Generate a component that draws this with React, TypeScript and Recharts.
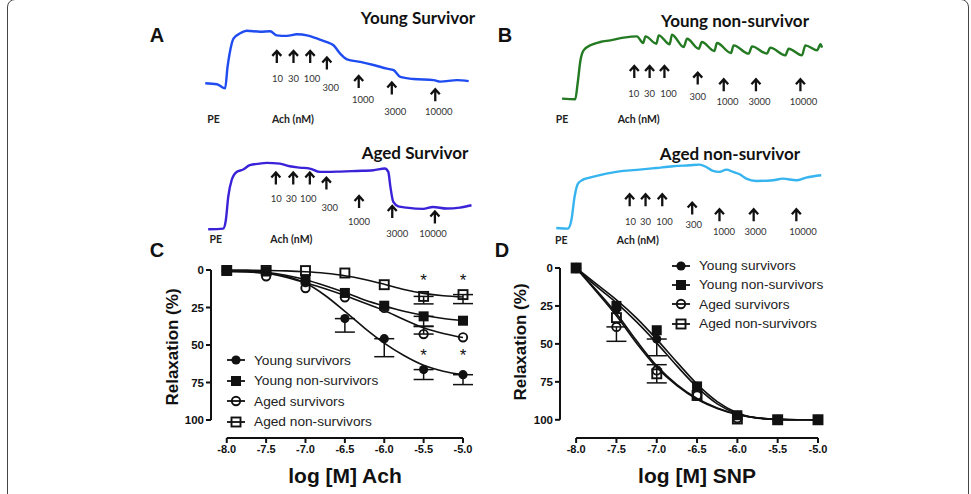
import React from 'react';
import { ComposedChart, Line, Scatter, XAxis, YAxis, ErrorBar, ReferenceLine } from 'recharts';

// ---------- isometric tension recordings (t = % of recording, v = % of PE tension)
const youngSurvTrace = [
  { t: 0, v: 0 }, { t: 4.4, v: -2 }, { t: 7.5, v: -10 }, { t: 8.4, v: 31 }, { t: 9.2, v: 57 },
  { t: 10.7, v: 86 }, { t: 13.2, v: 96 }, { t: 15.7, v: 101 }, { t: 20.8, v: 99 }, { t: 24.5, v: 100 },
  { t: 27, v: 92 }, { t: 30.8, v: 91 }, { t: 34.6, v: 94 }, { t: 38.4, v: 92 }, { t: 42.1, v: 86 },
  { t: 45.9, v: 79 }, { t: 48.4, v: 73 }, { t: 50.9, v: 57 }, { t: 53.5, v: 46 }, { t: 58.5, v: 41 },
  { t: 63.5, v: 35 }, { t: 68.6, v: 28 }, { t: 71.1, v: 25 }, { t: 73.6, v: 12 }, { t: 78.6, v: 8 },
  { t: 86.2, v: 6 }, { t: 88.7, v: 3 }, { t: 95, v: 6 }, { t: 99.4, v: 4 },
];
const youngSurvArrows = [
  { t: 27, v: 50.6 }, { t: 33.3, v: 50.6 }, { t: 39.6, v: 50.6 }, { t: 45.9, v: 37.9 },
  { t: 57.9, v: 2.5 }, { t: 70.4, v: -10.2 }, { t: 86.8, v: -23 },
];
const youngSurvDoses = [
  { t: 27.3, v: 9, text: '10' }, { t: 33.3, v: 9, text: '30' }, { t: 40.3, v: 9, text: '100' },
  { t: 47.4, v: -8.3, text: '300' }, { t: 59.5, v: -31.3, text: '1000' },
  { t: 71.7, v: -55, text: '3000' }, { t: 88.1, v: -55, text: '10000' },
];
const youngSurvNotes = [{ t: 3.1, v: -68, text: 'PE' }, { t: 33.1, v: -68, text: 'Ach (nM)' }];

const youngNonTrace = [
  { t: 0, v: 0 }, { t: 5.1, v: -1 }, { t: 6, v: 23.7 }, { t: 7.1, v: 60.5 }, { t: 8.3, v: 76.3 },
  { t: 10.9, v: 84.2 }, { t: 14.7, v: 89.5 }, { t: 18.6, v: 92.1 }, { t: 23.7, v: 96.3 }, { t: 28.8, v: 98.4 },
  { t: 31.2, v: 87.9 }, { t: 32.1, v: 98.4 }, { t: 36.3, v: 86.8 }, { t: 37.2, v: 100 },
  { t: 41.4, v: 85.8 }, { t: 42.3, v: 101 }, { t: 46.8, v: 81.6 }, { t: 48.1, v: 94.7 },
  { t: 52.6, v: 78.9 }, { t: 53.8, v: 89.5 }, { t: 58.6, v: 75.3 }, { t: 59.6, v: 87.9 },
  { t: 65, v: 72.1 }, { t: 66, v: 84.2 }, { t: 71.8, v: 71.1 }, { t: 73.1, v: 82.6 },
  { t: 78.8, v: 71.1 }, { t: 80.1, v: 80.5 }, { t: 85.9, v: 68.4 }, { t: 87.2, v: 78.9 },
  { t: 92.3, v: 68.4 }, { t: 93.6, v: 84.2 }, { t: 98.1, v: 76.3 }, { t: 99.4, v: 85.8 }, { t: 100, v: 80.5 },
];
const youngNonArrows = [
  { t: 27.8, v: 42.1 }, { t: 33.7, v: 42.1 }, { t: 39.4, v: 42.1 }, { t: 52.2, v: 31.6 },
  { t: 62.2, v: 21.1 }, { t: 74.6, v: 21.1 }, { t: 91.7, v: 21.1 },
];
const youngNonDoses = [
  { t: 27.6, v: 7.9, text: '10' }, { t: 33.7, v: 7.9, text: '30' }, { t: 41, v: 7.9, text: '100' },
  { t: 52.2, v: 2.6, text: '300' }, { t: 63.7, v: -5.3, text: '1000' },
  { t: 76, v: -5.3, text: '3000' }, { t: 92.9, v: -5.3, text: '10000' },
];
const youngNonNotes = [{ t: 0, v: -31.6, text: 'PE' }, { t: 29.5, v: -31.6, text: 'Ach (nM)' }];

const agedSurvTrace = [
  { t: 0, v: 0 }, { t: 5.7, v: 1 }, { t: 6.7, v: 13.7 }, { t: 7.6, v: 49 }, { t: 8.9, v: 74.6 },
  { t: 10.8, v: 87.3 }, { t: 13.3, v: 90.9 }, { t: 15.8, v: 97.5 }, { t: 19.6, v: 100 }, { t: 22.2, v: 101 },
  { t: 27.2, v: 100 }, { t: 31, v: 95.9 }, { t: 34.8, v: 93.9 }, { t: 38.6, v: 92.4 }, { t: 42.4, v: 87.3 },
  { t: 44.9, v: 87.3 }, { t: 50, v: 87.8 }, { t: 56.3, v: 88.8 }, { t: 62.7, v: 89.8 }, { t: 67.1, v: 92.4 },
  { t: 68.4, v: 87.3 }, { t: 69.2, v: 64.5 }, { t: 70.3, v: 41.6 }, { t: 72.2, v: 35 }, { t: 75.3, v: 33 },
  { t: 81.6, v: 31 }, { t: 85.4, v: 34 }, { t: 90.5, v: 31.5 }, { t: 95.6, v: 33 }, { t: 100, v: 36.5 },
];
const agedSurvArrows = [
  { t: 25.7, v: 77.2 }, { t: 32.3, v: 77.2 }, { t: 38.6, v: 77.2 }, { t: 44.9, v: 69.5 },
  { t: 57.3, v: 41.6 }, { t: 69.9, v: 26.4 }, { t: 86.1, v: 17.8 },
];
const agedSurvDoses = [
  { t: 25.9, v: 46.7, text: '10' }, { t: 31.6, v: 46.7, text: '30' }, { t: 38, v: 46.7, text: '100' },
  { t: 46.2, v: 33, text: '300' }, { t: 57.3, v: 11.2, text: '1000' },
  { t: 71.8, v: -6.6, text: '3000' }, { t: 85.4, v: -6.6, text: '10000' },
];
const agedSurvNotes = [{ t: 2.9, v: -14.2, text: 'PE' }, { t: 31.6, v: -14.2, text: 'Ach (nM)' }];

const agedNonTrace = [
  { t: 0, v: 0 }, { t: 4.4, v: -1 }, { t: 5.7, v: 12.2 }, { t: 6.9, v: 49.5 }, { t: 8.2, v: 70.7 },
  { t: 10.1, v: 77.1 }, { t: 12.6, v: 80.3 }, { t: 18.9, v: 86.7 }, { t: 25.2, v: 91 }, { t: 31.4, v: 93.1 },
  { t: 37.7, v: 95.7 }, { t: 44, v: 98.4 }, { t: 50.3, v: 100 }, { t: 54.1, v: 101 }, { t: 56.6, v: 97.3 },
  { t: 59.1, v: 91 }, { t: 61.6, v: 89.4 }, { t: 64.2, v: 93.1 }, { t: 66.7, v: 89.4 }, { t: 69.2, v: 85.6 },
  { t: 71.7, v: 78.7 }, { t: 75.5, v: 75 }, { t: 81.8, v: 76.1 }, { t: 85.5, v: 78.7 }, { t: 90.6, v: 76.1 },
  { t: 94.3, v: 80.3 }, { t: 100, v: 84 },
];
const agedNonArrows = [
  { t: 27.7, v: 44.1 }, { t: 33.7, v: 44.1 }, { t: 40, v: 44.1 }, { t: 51.3, v: 30.9 },
  { t: 61.6, v: 20.2 }, { t: 74.5, v: 20.2 }, { t: 90.6, v: 20.2 },
];
const agedNonDoses = [
  { t: 28, v: 9.6, text: '10' }, { t: 33.7, v: 9.6, text: '30' }, { t: 40.9, v: 9.6, text: '100' },
  { t: 51.9, v: 5.3, text: '300' }, { t: 63.3, v: -5.3, text: '1000' },
  { t: 75.2, v: -5.3, text: '3000' }, { t: 93.1, v: -5.3, text: '10000' },
];
const agedNonNotes = [{ t: 1.9, v: -19.7, text: 'PE' }, { t: 30.8, v: -18.6, text: 'Ach (nM)' }];

// ---------- concentration-response (log M), relaxation %
const logDose = [-8, -7.5, -7, -6.5, -6, -5.5, -5];
const fitDose = [-8, -7.75, -7.5, -7.25, -7, -6.75, -6.5, -6.25, -6, -5.75, -5.5, -5.25, -5];

const achYoungSurv = [1, 1, 8.5, 32.4, 45.8, 66.4, 69.8];
const achYoungSurvErrDown = [0, 0, 0, 9, 12, 6.6, 6.6];
const achYoungNon = [0.5, 1, 6.4, 15.3, 23.8, 30.9, 33.8];
const achYoungNonErrDown = [0, 0, 0, 0, 0, 6.5, 0];
const achAgedSurv = [0.5, 4.2, 12, 18.2, 25.3, 42.7, 44.9];
const achAgedSurvErrUp = [0, 0, 0, 0, 0, 5, 0];
const achAgedNon = [0.3, 0.3, 0.4, 2, 9.8, 17.6, 16.4];
const achAgedNonErrDown = [0, 0, 0, 0, 0, 5, 6];

const achYoungSurvFit = [0.9, 1.3, 2.2, 4.2, 8.7, 17, 27.6, 38.7, 48.7, 57, 63.5, 67.5, 69.8];
const achYoungNonFit = [0.5, 0.8, 1.5, 3.5, 6.5, 10.5, 15, 20, 24, 27.5, 30.2, 32.3, 33.8];
const achAgedSurvFit = [0.5, 1, 2.2, 4.8, 8.5, 12.5, 17, 22, 27, 33, 38.5, 42.3, 45];
const achAgedNonFit = [0, 0.1, 0.3, 0.6, 1.2, 2.2, 3.8, 6.3, 9.5, 13, 15.6, 17.2, 18];

const achStars = [{ x: -5.5, y: 4.2 }, { x: -5, y: 4.2 }, { x: -5.5, y: 54.2 }, { x: -5, y: 54.2 }];

const snpYoungSurv = [0, 27, 46.8, 78, 97, 100, 100];
const snpYoungSurvErrDown = [0, 0, 11, 0, 0, 0, 0];
const snpYoungNon = [0, 25, 41, 78, 97, 100, 100];
const snpAgedSurv = [0, 38.8, 67.5, 84, 99, 100, 100];
const snpAgedSurvErrDown = [0, 9.5, 0, 0, 0, 0, 0];
const snpAgedNon = [0, 32.7, 69.7, 84, 99.5, 100, 100];
const snpAgedNonErr = [0, 0, 6, 0, 0, 0, 0];

const snpYoungSurvFit = [0, 12, 23, 35.5, 49.5, 64.5, 78.5, 89.5, 96, 99, 99.8, 100, 100];
const snpYoungNonFit = [0, 10.5, 21, 33, 47, 62, 76.5, 88, 95.5, 98.8, 99.7, 100, 100];
const snpAgedSurvFit = [0, 15.5, 31.5, 49.5, 65.5, 77.5, 86.5, 92.5, 96.5, 98.8, 99.7, 100, 100];
const snpAgedNonFit = [0, 14.5, 30, 48, 64.5, 76.8, 86, 92.2, 96.3, 98.7, 99.6, 100, 100];

const groups = ['Young survivors', 'Young non-survivors', 'Aged survivors', 'Aged non-survivors'];
const doseTicks = [-8, -7.5, -7, -6.5, -6, -5.5, -5];
const relaxTicks = [0, 25, 50, 75, 100];

const INK = '#111';
const SANS = '"Liberation Sans", Arial, sans-serif';

const toFit = (ys: number[]) => fitDose.map((x, i) => ({ x, y: ys[i] }));
const toPts = (ys: number[], down?: number[], up?: number[]) =>
  logDose.map((x, i) => {
    const d = down ? down[i] : 0;
    const u = up ? up[i] : 0;
    return { x, y: ys[i], err: d || u ? [u, d] : undefined };
  });

// ---------- shapes
const markers = [
  (cx: number, cy: number) => <circle cx={cx} cy={cy} r={4.6} fill={INK} />,
  (cx: number, cy: number) => <rect x={cx - 5} y={cy - 5} width={10} height={10} fill={INK} />,
  (cx: number, cy: number) => <circle cx={cx} cy={cy} r={4.2} fill="none" stroke={INK} strokeWidth={1.9} />,
  (cx: number, cy: number) => <rect x={cx - 4.5} y={cy - 4.5} width={9} height={9} fill="none" stroke={INK} strokeWidth={1.9} />,
];

const ArrowShape = (p: any) => {
  const { cx, cy } = p;
  return (
    <path
      d={`M${cx},${cy + 6} L${cx},${cy - 5} M${cx - 4.5},${cy - 1} L${cx},${cy - 6} L${cx + 4.5},${cy - 1}`}
      stroke="#111" strokeWidth={2.3} fill="none"
    />
  );
};
const DoseText = (p: any) => (
  <text x={p.cx} y={p.cy} textAnchor="middle" dominantBaseline="central" fontSize={9.5} fill="#333" fontFamily="Lato, sans-serif">
    {p.payload?.text}
  </text>
);
const NoteText = (p: any) => (
  <text x={p.cx} y={p.cy} textAnchor="middle" dominantBaseline="central" fontSize={10.5} fontWeight="bold" fill="#222" fontFamily="Lato, sans-serif">
    {p.payload?.text}
  </text>
);
const StarText = (p: any) => (
  <text x={p.cx} y={p.cy + 9.5} textAnchor="middle" fontSize={17} fill={INK} fontFamily={SANS}>*</text>
);

type TraceProps = {
  data: any[]; arrows: any[]; doses: any[]; notes: any[]; color: string;
  left: number; top: number; width: number; height: number; yDomain: [number, number];
};
const Trace = ({ data, arrows, doses, notes, color, left, top, width, height, yDomain }: TraceProps) => (
  <div style={{ position: 'absolute', left, top }}>
    <ComposedChart width={width} height={height} margin={{ top: 0, right: 0, bottom: 0, left: 0 }}>
      <XAxis type="number" dataKey="t" domain={[-5, 105]} hide />
      <YAxis type="number" dataKey="v" domain={yDomain} hide />
      <Line data={data} dataKey="v" type="monotone" stroke={color} strokeWidth={2.4} dot={false} isAnimationActive={false} />
      <Scatter data={arrows} shape={ArrowShape} isAnimationActive={false} />
      <Scatter data={doses} shape={DoseText} isAnimationActive={false} />
      <Scatter data={notes} shape={NoteText} isAnimationActive={false} />
    </ComposedChart>
  </div>
);

type CurveProps = {
  left: number; top: number; width: number; height: number; yWidth: number; right: number;
  fits: number[][]; pts: any[][]; stars?: any[];
};
const DoseResponse = ({ left, top, width, height, yWidth, right, fits, pts, stars }: CurveProps) => (
  <div style={{ position: 'absolute', left, top }}>
    <ComposedChart width={width} height={height} margin={{ top: 10, right, bottom: 26, left: 0 }}>
      <XAxis
        type="number" dataKey="x" domain={[-8.2, -5]} ticks={doseTicks} interval={0}
        axisLine={false} tickLine={{ stroke: INK, strokeWidth: 2 }} tickSize={5} height={30}
        tickFormatter={(v: number) => v.toFixed(1)}
        tick={{ fontSize: 11, fontWeight: 'bold', fill: INK, fontFamily: SANS }}
      />
      <YAxis
        type="number" dataKey="y" domain={[0, 112]} reversed ticks={relaxTicks} interval={0}
        axisLine={false} tickLine={{ stroke: INK, strokeWidth: 2 }} tickSize={5} width={yWidth}
        tick={{ fontSize: 11.5, fontWeight: 'bold', fill: INK, fontFamily: SANS }}
      />
      <ReferenceLine segment={[{ x: -8, y: 112 }, { x: -5, y: 112 }]} stroke={INK} strokeWidth={2} ifOverflow="visible" />
      <ReferenceLine segment={[{ x: -8.2, y: 0 }, { x: -8.2, y: 100 }]} stroke={INK} strokeWidth={2} ifOverflow="visible" />
      {fits.map((f, i) => (
        <Line key={'f' + i} data={toFit(f)} dataKey="y" type="monotone" stroke={INK} strokeWidth={1.6} dot={false} isAnimationActive={false} />
      ))}
      {pts.map((p, i) => (
        <Scatter key={'p' + i} data={p} shape={(s: any) => markers[i](s.cx, s.cy)} isAnimationActive={false}>
          <ErrorBar dataKey="err" direction="y" width={10} stroke={INK} strokeWidth={1.5} />
        </Scatter>
      ))}
      {stars && <Scatter data={stars} shape={StarText} isAnimationActive={false} />}
    </ComposedChart>
  </div>
);

const LegendBox = ({ left, top, gap }: { left: number; top: number; gap: number }) => (
  <div style={{ position: 'absolute', left, top }}>
    {groups.map((g, i) => (
      <div key={g} style={{ position: 'absolute', left: 0, top: i * gap - 10, height: 20, display: 'flex', alignItems: 'center', whiteSpace: 'nowrap' }}>
        <svg width={28} height={20}>
          <line x1={1} y1={10} x2={19} y2={10} stroke={INK} strokeWidth={1.8} />
          {markers[i](10, 10)}
        </svg>
        <span style={{ fontFamily: SANS, fontSize: 13.7, color: '#222' }}>{g}</span>
      </div>
    ))}
  </div>
);

const Abs = ({ x, y, children, style }: any) => (
  <div style={{ position: 'absolute', left: x, top: y, transform: 'translate(-50%, -50%)', whiteSpace: 'nowrap', lineHeight: 1, ...style }}>
    {children}
  </div>
);
const letter = { fontFamily: SANS, fontWeight: 'bold', fontSize: 20, color: '#111' };
const title = { fontFamily: 'Lato, sans-serif', fontWeight: 'bold', fontSize: 17, color: '#111' };
const axisTitle = { fontFamily: SANS, fontWeight: 'bold', color: '#111' };

export default function App() {
  return (
    <div style={{ position: 'absolute', left: 0, top: 0, width: 971, height: 494, overflow: 'hidden', background: '#fff' }}>
      <div style={{ position: 'absolute', left: 7, top: -1, width: 960, height: 540, border: '1.5px solid #444', borderRadius: 8 }} />

      <Abs x={157} y={35} style={letter}>A</Abs>
      <Abs x={505} y={35} style={letter}>B</Abs>
      <Abs x={157} y={250} style={letter}>C</Abs>
      <Abs x={502} y={250} style={letter}>D</Abs>

      <Abs x={418} y={17} style={title}>Young Survivor</Abs>
      <Abs x={735} y={20} style={title}>Young non-survivor</Abs>
      <Abs x={415} y={152} style={title}>Aged Survivor</Abs>
      <Abs x={730} y={153} style={title}>Aged non-survivor</Abs>

      <Trace data={youngSurvTrace} arrows={youngSurvArrows} doses={youngSurvDoses} notes={youngSurvNotes}
        color="#1f4cf0" left={191.75} top={25.8} width={291.5} height={98.8} yDomain={[-80, 110]} />
      <Trace data={youngNonTrace} arrows={youngNonArrows} doses={youngNonDoses} notes={youngNonNotes}
        color="#237a22" left={548.7} top={28.7} width={286} height={98.1} yDomain={[-45, 110]} />
      <Trace data={agedSurvTrace} arrows={agedSurvArrows} doses={agedSurvDoses} notes={agedSurvNotes}
        color="#3a22d8" left={195.1} top={156.7} width={289.7} height={88.7} yDomain={[-25, 110]} />
      <Trace data={agedNonTrace} arrows={agedNonArrows} doses={agedNonDoses} notes={agedNonNotes}
        color="#35b4ef" left={543.45} top={158.7} width={291.5} height={87.8} yDomain={[-30, 110]} />

      <DoseResponse
        left={140} top={260} width={340} height={234} yWidth={71} right={17}
        fits={[achYoungSurvFit, achYoungNonFit, achAgedSurvFit, achAgedNonFit]}
        pts={[
          toPts(achYoungSurv, achYoungSurvErrDown),
          toPts(achYoungNon, achYoungNonErrDown),
          toPts(achAgedSurv, undefined, achAgedSurvErrUp),
          toPts(achAgedNon, achAgedNonErrDown),
        ]}
        stars={achStars}
      />
      <DoseResponse
        left={490} top={258} width={360} height={236} yWidth={70} right={32}
        fits={[snpYoungSurvFit, snpYoungNonFit, snpAgedSurvFit, snpAgedNonFit]}
        pts={[
          toPts(snpYoungSurv, snpYoungSurvErrDown),
          toPts(snpYoungNon),
          toPts(snpAgedSurv, snpAgedSurvErrDown),
          toPts(snpAgedNon, snpAgedNonErr, snpAgedNonErr),
        ]}
      />

      <LegendBox left={226} top={360} gap={20.5} />
      <LegendBox left={671} top={265.5} gap={19.4} />

      <Abs x={345} y={475} style={{ ...axisTitle, fontSize: 21 }}>log [M] Ach</Abs>
      <Abs x={697} y={475} style={{ ...axisTitle, fontSize: 21 }}>log [M] SNP</Abs>
      <Abs x={172} y={347} style={{ ...axisTitle, fontSize: 17, transform: 'translate(-50%, -50%) rotate(-90deg)' }}>Relaxation (%)</Abs>
      <Abs x={520} y={342} style={{ ...axisTitle, fontSize: 17, transform: 'translate(-50%, -50%) rotate(-90deg)' }}>Relaxation (%)</Abs>
    </div>
  );
}
